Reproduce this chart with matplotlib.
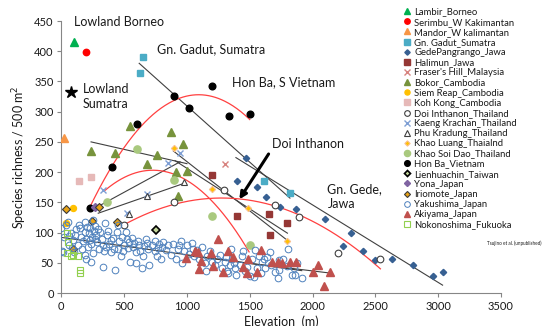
import numpy as np
import matplotlib
matplotlib.use("Agg")
import matplotlib.pyplot as plt

plt.rcParams['font.family'] = ['Lato', 'DejaVu Sans']

# ---------------- data ----------------
lambir_x = [100]; lambir_y = [415]
serimbu_x = [200]; serimbu_y = [398]
mandor_x = [20]; mandor_y = [257]
gadut_x = [650, 625, 1615, 1820]; gadut_y = [390, 364, 185, 165]
gede_x = [1470, 1395, 1560, 1627, 1741, 1866, 2100, 2240, 2307, 2400, 2500, 2630, 2800, 2955, 3035]
gede_y = [224, 186, 176, 158, 142, 139, 122, 78, 99, 70, 54, 56, 47, 28, 35]
halimun_x = [1200, 1400, 1650, 1795, 1660]; halimun_y = [196, 127, 130, 116, 96]
fraser_x = [1303]; fraser_y = [214]
bokor_x = [237, 428, 547, 680, 760, 870, 915, 965, 1000, 930]
bokor_y = [235, 231, 277, 213, 228, 266, 200, 246, 202, 160]
siemreap_x = [91, 35]; siemreap_y = [141, 115]
kohkong_x = [140, 235]; kohkong_y = [185, 192]
doi_x = [500, 900, 1295, 1700, 1895, 2200, 2540]; doi_y = [113, 150, 171, 146, 125, 66, 56]
kaeng_x = [335, 520, 680, 850, 945]; kaeng_y = [171, 133, 164, 215, 231]
phu_x = [540, 680, 980]; phu_y = [131, 160, 183]
khaoluang_x = [900, 1200, 1490, 1800]; khaoluang_y = [240, 172, 140, 86]
khaosoidao_x = [360, 600, 900, 1200, 1500]; khaosoidao_y = [150, 239, 187, 128, 79]
honba_x = [225, 400, 600, 900, 1020, 1200, 1335, 1500]; honba_y = [141, 208, 279, 326, 306, 342, 293, 296]
lien_x = [750]; lien_y = [105]
yona_x = [270]; yona_y = [142]
iriomote_x = [35, 245, 447, 300, 90]; iriomote_y = [139, 119, 117, 142, 72]
yaku_x = [0, 3, 15, 25, 40, 55, 60, 65, 75, 85, 95, 105,
          110, 120, 130, 140, 150, 160, 165, 175, 185, 190, 195, 200, 185, 205,
          212, 220, 228, 240, 248, 255, 262, 270, 278, 285, 292, 300, 238, 225, 268, 250,
          310, 322, 330, 340, 352, 362, 372, 382, 392, 398, 345, 335,
          412, 428, 440, 452, 462, 475, 482, 500, 455, 420, 490,
          512, 522, 532, 548, 560, 572, 582, 592, 598, 540,
          612, 622, 640, 652, 662, 672, 690, 700, 630, 685,
          722, 742, 760, 780, 790, 802, 745, 770,
          812, 830, 850, 870, 890, 910, 930, 952, 960, 980, 1000, 1020, 940,
          1040, 1060, 1080, 1100, 1120, 1140, 1160, 1180, 1200, 1150, 1050,
          1220, 1240, 1262, 1280, 1300, 1320, 1340, 1350, 1362, 1380, 1392, 1372, 1310, 1330,
          1420, 1440, 1460, 1480, 1500, 1520, 1542, 1534, 1560, 1577, 1600, 1450,
          1612, 1622, 1640, 1662, 1670, 1700, 1733, 1736, 1728, 1768, 1808, 1834, 1860, 1914, 1800, 1850, 1880, 1590]
yaku_y = [107, 70, 68, 92, 112, 118, 95, 80, 100, 75, 88, 68,
          96, 106, 80, 113, 108, 92, 72, 86, 101, 117, 57, 89, 63, 110,
          76, 99, 108, 81, 93, 66, 103, 111, 96, 84, 106, 73, 52, 87, 90, 120,
          101, 89, 43, 70, 76, 96, 103, 81, 68, 88, 116, 80,
          91, 38, 101, 73, 86, 61, 93, 79, 112, 72, 70,
          101, 89, 74, 52, 91, 76, 83, 68, 50, 85,
          86, 80, 42, 61, 77, 89, 73, 47, 70, 82,
          79, 86, 61, 81, 56, 76, 70, 75,
          85, 71, 79, 63, 81, 56, 73, 86, 49, 69, 79, 65, 80,
          83, 61, 71, 56, 76, 49, 61, 69, 51, 36, 72,
          46, 56, 63, 41, 51, 36, 46, 73, 56, 41, 30, 50, 59, 33,
          46, 61, 36, 43, 28, 56, 71, 27, 41, 61, 51, 70,
          56, 41, 60, 68, 46, 35, 54, 38, 24, 57, 73, 29, 30, 25, 45, 42, 50, 33]
akiyama_x = [993, 1065, 1090, 1110, 1100, 1192, 1205, 1250, 1290, 1325, 1369, 1449, 1476,
             1490, 1561, 1590, 1675, 1723, 1755, 1821, 1868, 2006, 2046, 2091, 2139]
akiyama_y = [58, 70, 68, 53, 40, 66, 44, 90, 34, 70, 60, 43, 33,
             57, 35, 71, 51, 51, 49, 51, 51, 35, 47, 11, 35]
noko_x = [45, 55, 45, 75, 90, 130, 150, 150]; noko_y = [99, 84, 66, 62, 63, 61, 38, 33]
sumatra_x = [75]; sumatra_y = [333]

# trend lines (x points, y points)
lin_x = [[620, 1820], [1390, 3035], [892, 1800], [905, 1800], [237, 1000],
         [309, 945], [294, 985], [0, 1914], [993, 2139]]
lin_y = [[380, 157], [224, 13], [235, 87], [219, 99], [250, 214],
         [145, 217], [132, 182], [92, 37], [62, 33]]
quad_x = [[225, 1100, 1500], [349, 706, 1495], [500, 1400, 2540]]
quad_y = [[141, 328, 287], [170, 203, 68], [113, 156, 40]]

xticks = [0, 500, 1000, 1500, 2000, 2500, 3000, 3500]
yticks = [0, 50, 100, 150, 200, 250, 300, 350, 400, 450]

# ---------------- figure ----------------
W, H = 551, 326
fig = plt.figure(figsize=(W / 100, H / 100), dpi=100)
ax = fig.add_axes([61.3 / W, 1 - 293 / H, (501 - 61.3) / W, (293 - 21) / H])
ax.set_xlim(0, 3500)
ax.set_ylim(0, 450)

# trend lines
for xs, ys in zip(lin_x, lin_y):
    c = np.polyfit(xs, ys, 1)
    xx = np.linspace(min(xs), max(xs), 50)
    ax.plot(xx, np.polyval(c, xx), color='#404040', lw=0.8, zorder=2)
for xs, ys in zip(quad_x, quad_y):
    c = np.polyfit(xs, ys, 2)
    xx = np.linspace(min(xs), max(xs), 200)
    ax.plot(xx, np.polyval(c, xx), color='#FF4040', lw=0.9, zorder=2)

series = [
    ("Lambir_Borneo", lambir_x, lambir_y, dict(marker='^', ms=5.2, mfc='#00B050', mec='#00B050')),
    ("Serimbu_W Kakimantan", serimbu_x, serimbu_y, dict(marker='o', ms=4.6, mfc='#FF0000', mec='#FF0000')),
    ("Mandor_W kalimantan", mandor_x, mandor_y, dict(marker='^', ms=5.2, mfc='#F79646', mec='#F79646')),
    ("Gn. Gadut_Sumatra", gadut_x, gadut_y, dict(marker='s', ms=4.6, mfc='#4BACC6', mec='#4BACC6')),
    ("GedePangrango_Jawa", gede_x, gede_y, dict(marker='D', ms=3.2, mfc='#376092', mec='#376092')),
    ("Halimun_Jawa", halimun_x, halimun_y, dict(marker='s', ms=4.8, mfc='#953735', mec='#953735')),
    ("Fraser's Hill_Malaysia", fraser_x, fraser_y, dict(marker='x', ms=4.6, mfc='none', mec='#D7837F', mew=1.0)),
    ("Bokor_Cambodia", bokor_x, bokor_y, dict(marker='^', ms=5.2, mfc='#77933C', mec='#77933C')),
    ("Siem Reap_Cambodia", siemreap_x, siemreap_y, dict(marker='o', ms=4.3, mfc='#FFC000', mec='#FFC000')),
    ("Koh Kong_Cambodia", kohkong_x, kohkong_y, dict(marker='s', ms=4.8, mfc='#E6B9B8', mec='#E6B9B8')),
    ("Doi Inthanon_Thailand", doi_x, doi_y, dict(marker='o', ms=4.8, mfc='white', mec='#404040', mew=0.8)),
    ("Kaeng Krachan_Thailand", kaeng_x, kaeng_y, dict(marker='x', ms=4.8, mfc='none', mec='#7F9FD4', mew=1.0)),
    ("Phu Kradung_Thailand", phu_x, phu_y, dict(marker='^', ms=4.8, mfc='white', mec='#404040', mew=0.8)),
    ("Khao Luang_Thaialnd", khaoluang_x, khaoluang_y, dict(marker='D', ms=3.2, mfc='#FFC000', mec='#FAC090', mew=0.8)),
    ("Khao Soi Dao_Thailand", khaosoidao_x, khaosoidao_y, dict(marker='o', ms=5.2, mfc='#A9C97E', mec='#A9C97E')),
    ("Hon Ba_Vietnam", honba_x, honba_y, dict(marker='o', ms=4.8, mfc='black', mec='black')),
    ("Lienhuachin_Taiwan", lien_x, lien_y, dict(marker='D', ms=3.6, mfc='#C3D69B', mec='black', mew=1.2)),
    ("Yona_Japan", yona_x, yona_y, dict(marker='D', ms=3.6, mfc='#8064A2', mec='#8064A2')),
    ("Iriomote_Japan", iriomote_x, iriomote_y, dict(marker='D', ms=3.6, mfc='#E8A317', mec='#3a3a3a', mew=0.8)),
    ("Yakushima_Japan", yaku_x, yaku_y, dict(marker='o', ms=4.8, mfc='none', mec='#4F81BD', mew=0.7)),
    ("Akiyama_Japan", akiyama_x, akiyama_y, dict(marker='^', ms=5.2, mfc='#C0504D', mec='#C0504D')),
    ("Nokonoshima_Fukuoka", noko_x, noko_y, dict(marker='s', ms=4.8, mfc='none', mec='#92D050', mew=0.8)),
]

handles = []
for name, xs, ys, st in series:
    h, = ax.plot(xs, ys, linestyle='none', label=name, zorder=3, **st)
    handles.append(h)

ax.plot(sumatra_x, sumatra_y, linestyle='none', marker='*', ms=9, color='black', zorder=3)

# annotations
tc = '#1a1a1a'
ax.text(100, 448, "Lowland Borneo", fontsize=9, color=tc, va='center', ha='left')
ax.text(170, 325, "Lowland\nSumatra", fontsize=9, color=tc, va='center', ha='left', linespacing=1.25)
ax.text(765, 404, "Gn. Gadut, Sumatra", fontsize=9, color=tc, va='center', ha='left')
ax.text(1357, 348, "Hon Ba, S Vietnam", fontsize=9, color=tc, va='center', ha='left')
ax.text(1675, 246, "Doi Inthanon", fontsize=9, color=tc, va='center', ha='left')
ax.text(2118, 160, "Gn. Gede,\nJawa", fontsize=9, color=tc, va='center', ha='left', linespacing=1.25)
ax.annotate('', xy=(1417, 155), xytext=(1650, 230),
            arrowprops=dict(arrowstyle='-|>', lw=2.2, color='black', mutation_scale=10,
                            shrinkA=0, shrinkB=0))

# axes styling
for s in ['top', 'right']:
    ax.spines[s].set_visible(False)
for s in ['left', 'bottom']:
    ax.spines[s].set_color('#868686')
    ax.spines[s].set_linewidth(0.8)
ax.set_xticks(xticks)
ax.set_yticks(yticks)
ax.tick_params(axis='both', direction='out', length=3, width=0.8, color='#868686',
               labelsize=8, labelcolor='#1a1a1a', pad=2.5)
ax.set_xlabel("Elevation  (m)", fontsize=9, color=tc, labelpad=3)
ax.set_ylabel("Species richness / 500 m$^2$", fontsize=9, color=tc, labelpad=4)

leg = fig.legend(handles=handles, loc='upper left', bbox_to_anchor=(404 / W, 1 - 7.5 / H),
                 frameon=False, fontsize=6.8, handlelength=0.7, handletextpad=0.4,
                 labelspacing=0.12, borderpad=0, borderaxespad=0, numpoints=1,
                 markerscale=0.85)
for t in leg.get_texts():
    t.set_color(tc)

fig.text(487 / W, 1 - 243 / H, "Tsujino et al. (unpublished)", fontsize=3.3, color=tc, va='center')

fig.savefig("out.png", dpi=100)
